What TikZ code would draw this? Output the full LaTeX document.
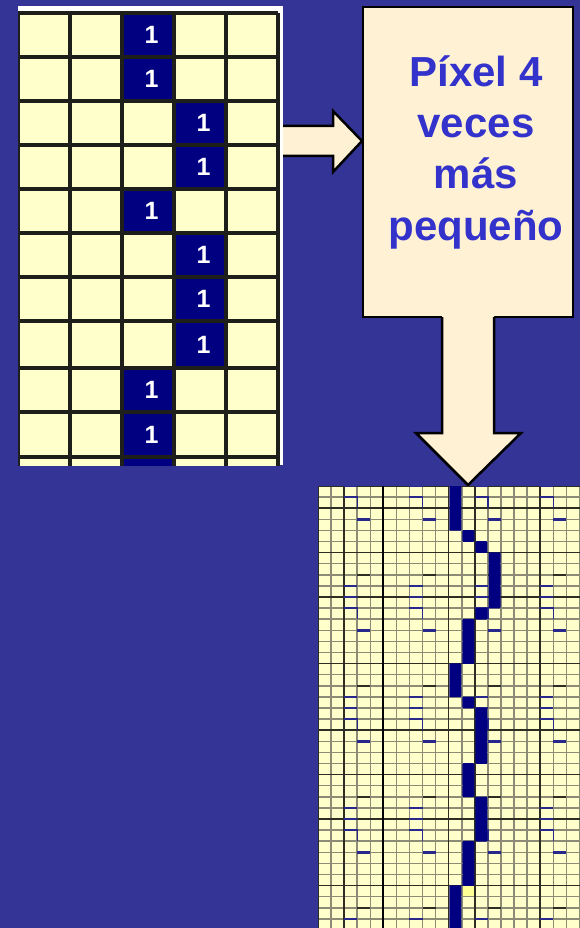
\documentclass[tikz,border=0pt]{standalone}
\usepackage{fontspec}
\setmainfont{Liberation Sans}
\begin{document}
\begin{tikzpicture}[x=1pt,y=-1pt,
  topline/.style={draw=topgrid, line width=3.2},
  fineline/.style={draw=finegray, line width=1.5},
  darkline/.style={draw=darkgray2, line width=1.5},
  markline/.style={draw=markblue, line width=1.3},
  markthick/.style={draw=markblue, line width=2.6},
  markdark/.style={draw=darkgray2, line width=1.5},
  digit/.style={font=\fontsize{25}{25}\selectfont\bfseries, text=white, inner sep=0pt},
  lbl/.style={anchor=base, font=\fontsize{42}{51}\selectfont\bfseries, text=txtblue, inner sep=0pt},
  shapeline/.style={draw=black, line width=2.5, line join=miter}]
\definecolor{bg}{RGB}{52,52,150}
\definecolor{cellY}{RGB}{255,255,204}
\definecolor{navyc}{RGB}{0,0,128}
\definecolor{cream}{RGB}{255,242,212}
\definecolor{txtblue}{RGB}{51,51,204}
\definecolor{topgrid}{RGB}{30,30,26}
\definecolor{finegray}{RGB}{140,140,118}
\definecolor{darkgray2}{RGB}{45,45,35}
\definecolor{markblue}{RGB}{40,40,140}
\definecolor{hiY}{RGB}{255,255,150}

\fill[bg] (0,0) rectangle (580,928);
\useasboundingbox (0,0) rectangle (580,928);

% ---------- top-left grid ----------
\fill[white] (18,6) rectangle (283,465);
\begin{scope}
  \clip (18,6) rectangle (283,465);
  \fill[cellY] (18,13) rectangle (278,501);
  \foreach \r/\ya/\yb/\c in {0/13/57/2, 1/57/101/2, 2/101/145/3, 3/145/189/3,
      4/189/233/2, 5/233/277/3, 6/277/321/3, 7/321/368/3, 8/368/412/2,
      9/412/457/2, 10/457/501/2} {
    \fill[navyc] ({18+\c*52},\ya) rectangle ({70+\c*52},\yb);
    \node[digit] (d\r) at ({47.5+\c*52},{(\ya+\yb)/2}) {1};
  }
  \foreach \k in {0,...,5} \draw[topline] ({18+\k*52},13) -- ({18+\k*52},501);
  \foreach \y in {13,57,101,145,189,233,277,321,368,412,457,501}
    \draw[topline] (18,\y) -- (278,\y);
\end{scope}

% ---------- box ----------
\node[name=box, draw=black, line width=2.5, fill=cream, minimum width=210, minimum height=310, inner sep=0pt] at (468,162) {};
\node[lbl] (t1) at (476,87) {Píxel 4};
\node[lbl] (t2) at (476,138) {veces};
\node[lbl] (t3) at (476,189) {más};
\node[lbl] (t4) at (476,240) {pequeño};

% ---------- right arrow ----------
\coordinate (ra1) at (283,126);
\coordinate (ra2) at (333,126);
\coordinate (ra3) at (333,111);
\coordinate (ratip) at (362,141);
\coordinate (ra5) at (333,172);
\coordinate (ra6) at (333,156);
\coordinate (ra7) at (283,156);
\fill[cream] (ra1) -- (ra2) -- (ra3) -- (ratip) -- (ra5) -- (ra6) -- (ra7) -- cycle;
\draw[shapeline] (ra1) -- (ra2) -- (ra3) -- (ratip) -- (ra5) -- (ra6) -- (ra7);

% ---------- down arrow ----------
\coordinate (da1) at (442,317);
\coordinate (da2) at (442,433);
\coordinate (da3) at (416,433);
\coordinate (datip) at (468,485);
\coordinate (da5) at (521,433);
\coordinate (da6) at (494,433);
\coordinate (da7) at (494,317);
\fill[cream] (442,315.3) -- (da2) -- (da3) -- (datip) -- (da5) -- (da6) -- (494,315.3) -- cycle;
\draw[shapeline] (da1) -- (da2) -- (da3) -- (datip) -- (da5) -- (da6) -- (da7);

% ---------- bottom-right fine grid ----------
\begin{scope}
  \clip (318,486) rectangle (580,928);
  \fill[cellY] (318,486) rectangle (580,928);
  \fill[hiY] ({318+11*13.07},{486+36*11.1}) rectangle ++(13.07,11.1);
  \foreach \k in {0,...,20} \draw[fineline] ({318+\k*13.07},486) -- ({318+\k*13.07},928);
  \foreach \j in {0,...,40} \draw[fineline] (318,{486+\j*11.1}) -- (580,{486+\j*11.1});
  \foreach \j in {0,2,6,10,16,22,26,30,36} \draw[darkline] (318,{486+\j*11.1}) -- (580,{486+\j*11.1});
  \foreach \k in {0,2,10,12,17} \draw[darkline] ({318+\k*13.07},486) -- ({318+\k*13.07},928);
  \draw[draw=black, line width=2] ({318+5*13.07},486) -- ({318+5*13.07},928);
  % marks
  \foreach \p in {0,1,2,3} {
    \foreach \g in {0,1,2,3} {
      \pgfmathsetmacro\xa{318+(5*\g+2)*13.07}
      \pgfmathsetmacro\xb{\xa+13.07}
      \pgfmathsetmacro\xc{\xb+13.07}
      \pgfmathsetmacro\yz{486+10*\p*11.1}
      \draw[markline] ({\xa},{\yz}) -- ({\xb},{\yz});
      \draw[markline] ({\xa},{\yz+11.1}) -- ({\xb},{\yz+11.1}) -- ({\xb},{\yz+22.2});
      \draw[markthick] ({\xb},{\yz+33.3}) -- ({\xc},{\yz+33.3});
      \draw[markdark] ({\xb},{\yz+88.8}) -- ({\xc},{\yz+88.8});
      \draw[markline] ({\xa},{\yz+99.9}) -- ({\xb},{\yz+99.9});
    }
  }
  % blue path
  \foreach \r/\c in {0/10,1/10,2/10,3/10,4/11,5/12,6/13,7/13,8/13,9/13,10/13,
      11/12,12/11,13/11,14/11,15/11,16/10,17/10,18/10,19/11,20/12,21/12,22/12,
      23/12,24/12,25/11,26/11,27/11,28/12,29/12,30/12,31/12,32/11,33/11,34/11,
      35/11,36/10,37/10,38/10,39/10}
    \fill[navyc, rounded corners=1] ({318+\c*13.07+0.6},{486+\r*11.1-0.3}) rectangle ++(12.0,11.7);
  \draw[darkline] (318,486) -- (318,928);
\end{scope}
\end{tikzpicture}
\end{document}
